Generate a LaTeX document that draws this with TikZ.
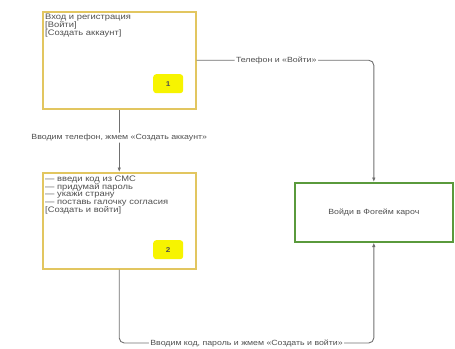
\documentclass[tikz,border=0pt]{standalone}
\usepackage{fontspec}
\setmainfont{Liberation Sans}[FakeStretch=1.17]
\usetikzlibrary{arrows.meta,shadows}
\definecolor{stepborder}{HTML}{E2C660}
\definecolor{badgefill}{HTML}{F7F400}
\definecolor{doneborder}{HTML}{5A9A3C}
\definecolor{inktext}{HTML}{505050}
\definecolor{wire}{HTML}{707070}
\tikzset{
  stepbox/.style={draw=stepborder, line width=1.5pt, fill=white, anchor=north west,
    drop shadow={shadow xshift=1.5pt, shadow yshift=-1.5pt, fill=black!35}},
  steptext/.style={anchor=north west, align=left, inner sep=0pt, text=inktext,
    font=\fontsize{8}{7.8}\selectfont},
  badge/.style={fill=badgefill, rounded corners=3pt, minimum width=30pt, minimum height=19pt,
    anchor=north west, text=inktext, font=\fontsize{7}{8}\selectfont\bfseries},
  donebox/.style={draw=doneborder, line width=1.6pt, fill=white, anchor=north west},
  conn/.style={draw=wire, line width=0.9pt, rounded corners=5pt,
    -{Latex[length=4.5pt,width=3.6pt,fill=black!75]}},
  lbl/.style={fill=white, inner sep=1.5pt, text=inktext, font=\fontsize{7.5}{8}\selectfont}
}
\begin{document}
\begin{tikzpicture}[x=1pt,y=-1pt]
\useasboundingbox (0,0) rectangle (455,348);

% step 1: sign in or register
\node[stepbox, minimum width=153pt, minimum height=97pt] (s1) at (42,11) {};
\node[steptext] (s1t) at (45,14) {Вход и регистрация\\{[Войти]}\\{[Создать аккаунт]}};
\node[badge] (b1) at (153,74) {1};

% step 2: code, password, country, consent
\node[stepbox, minimum width=153pt, minimum height=96pt] (s2) at (42,172) {};
\node[steptext] (s2t) at (45,175.5) {— введи код из СМС\\— придумай пароль\\— укажи страну\\— поставь галочку согласия\\{[Создать и войти]}};
\node[badge] (b2) at (153,240) {2};

% final state
\node[donebox, minimum width=158pt, minimum height=59pt] (done) at (294,182) {};
\node[text=inktext, font=\fontsize{7.5}{8}\selectfont] (donet) at (done.center) {Войди в Фогейм кароч};

% connectors
\coordinate (c1) at (done.north |- s1.east);
\draw[conn] (s1.east) -- node[lbl, pos=0.45] {Телефон и «Войти»} (c1) -- (done.north);

\draw[conn] (s1.south) -- node[lbl, pos=0.45] {Вводим телефон, жмем «Создать аккаунт»} (s2.north);

\coordinate (c2) at (s2.south |- 0,343);
\coordinate (c3) at (done.south |- 0,343);
\draw[conn] (s2.south) -- (c2) -- node[lbl, pos=0.5] {Вводим код, пароль и жмем «Создать и войти»} (c3) -- (done.south);
\end{tikzpicture}
\end{document}
